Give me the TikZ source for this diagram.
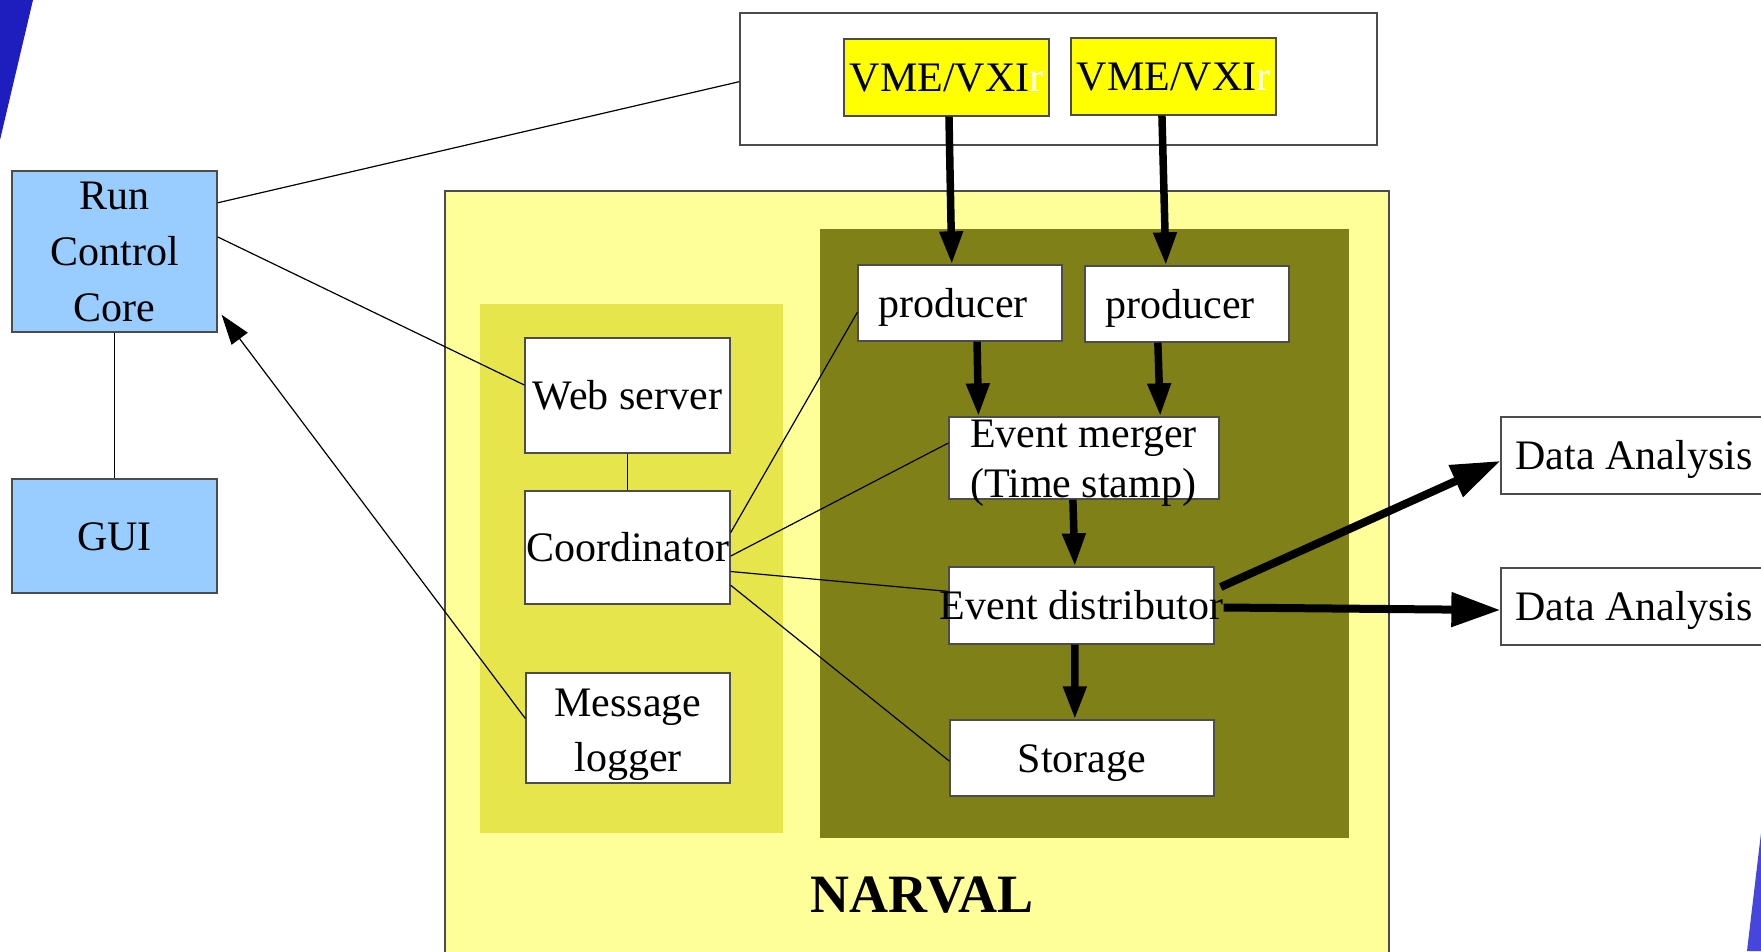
\documentclass[tikz,border=0pt]{standalone}
\usepackage{fontspec}
\setmainfont{Liberation Serif}
\usetikzlibrary{arrows.meta,calc}
\definecolor{narvalbg}{RGB}{255,255,153}
\definecolor{panelA}{RGB}{230,230,76}
\definecolor{olivebg}{RGB}{128,128,25}
\definecolor{rcblue}{RGB}{153,204,255}
\definecolor{vmeyellow}{RGB}{255,255,0}
\definecolor{decoblueA}{RGB}{30,30,190}
\definecolor{decoblueB}{RGB}{70,70,220}
\begin{document}
\begin{tikzpicture}[x=1pt,y=-1pt,
  font=\fontsize{42}{56}\selectfont,
  box/.style={draw=black!70, line width=1.3pt, fill=white, inner sep=0pt, align=center},
  onebox/.style={box, text height=37.4pt, text depth=9.1pt},
  bluebox/.style={box, fill=rcblue},
  vmebox/.style={onebox, fill=vmeyellow},
  thinline/.style={line width=1.2pt, black},
  fat/.style={line width=7.5pt, -{Triangle[length=33pt,width=22pt]}},
  fatter/.style={line width=8pt, -{Triangle[length=49pt,width=33pt]}},
  txt/.style={inner sep=0pt}
]
\useasboundingbox (0,0) rectangle (1761,951);
\clip (0,0) rectangle (1761,951);
% decorations
\fill[decoblueA] (0,0) -- (33,0) -- (0,140) -- cycle;
\fill[decoblueB] (1761,833) -- (1761,951) -- (1747,951) -- cycle;
% panels
\draw[fill=narvalbg, draw=black!70, line width=1.3pt] (445,191) rectangle (1389,960);
\fill[panelA] (480,304) rectangle (783,833);
\fill[olivebg] (820,229) rectangle (1349,838);
% top box
\node[box, minimum width=637pt, minimum height=132pt] (top) at (1058.5,79) {};
\node[vmebox, minimum width=205pt, minimum height=77pt] (vme1) at (946.5,77.5) {VME/VXI\textcolor{white}{r}};
\node[vmebox, minimum width=205pt, minimum height=77pt] (vme2) at (1173.5,76.5) {VME/VXI\textcolor{white}{r}};
% left
\node[bluebox, minimum width=205pt, minimum height=161pt] (rcc) at (114.5,251.5) {Run\\Control\\Core};
\node[onebox, fill=rcblue, minimum width=205pt, minimum height=114pt] (gui) at (114.5,536) {GUI};
% light panel boxes
\node[onebox, minimum width=205pt, minimum height=115pt] (web) at (627.5,395.5) {\makebox[0pt]{Web server}};
\node[onebox, minimum width=205pt, minimum height=113pt] (coord) at (627.5,547.5) {\makebox[0pt]{Coordinator}};
\node[box, minimum width=204pt, minimum height=106pt, font=\fontsize{42}{55}\selectfont] (msg) at (628,728) {\raisebox{-4.5pt}[\height][\depth]{\begin{tabular}{@{}c@{}}Message\\logger\end{tabular}}};
% olive boxes
\node[onebox, minimum width=204pt, minimum height=76pt] (prod1) at (960,303) {producer\hspace{14pt}};
\node[onebox, minimum width=204pt, minimum height=76pt] (prod2) at (1187,304) {producer\hspace{14pt}};
\node[box, minimum width=270pt, minimum height=82pt] (merger) at (1084,458) {};
\node[txt, anchor=base west] (mergerA) at (970,447) {Event merger};
\node[txt, anchor=base west] (mergerB) at (970,497) {(Time stamp)};
\node[onebox, minimum width=265pt, minimum height=77pt] (dist) at (1081.5,605.5) {\makebox[0pt]{Event distributor}};
\node[onebox, minimum width=264pt, minimum height=76pt] (stor) at (1082,758) {Storage};
% data analysis
\node[onebox, minimum width=266pt, minimum height=77pt] (da1) at (1634,455.5) {Data Analysis};
\node[onebox, minimum width=266pt, minimum height=77pt] (da2) at (1634,606.5) {Data Analysis};
% title
\node[txt, font=\fontsize{54}{60}\selectfont\bfseries] (title) at (922,895) {NARVAL};
% thin connectors
\draw[thinline] ($(rcc.north east)!0.2!(rcc.south east)$) -- ($(top.north west)!0.52!(top.south west)$);
\draw[thinline] ($(rcc.north east)!0.41!(rcc.south east)$) -- ($(web.north west)!0.41!(web.south west)$);
\draw[thinline, -{Triangle[length=30pt,width=20pt]}] ($(msg.north west)!0.415!(msg.south west)$) -- ($(rcc.north east)!0.89!(rcc.south east)+(4,0)$);
\draw[thinline] (web.south) -- (coord.north);
\draw[thinline] (rcc.south) -- (gui.north);
\draw[thinline] ($(coord.north east)!0.37!(coord.south east)$) -- ($(prod1.north west)!0.62!(prod1.south west)$);
\draw[thinline] ($(coord.north east)!0.575!(coord.south east)$) -- ($(merger.north west)!0.32!(merger.south west)$);
\draw[thinline] ($(coord.north east)!0.71!(coord.south east)$) -- ($(dist.north west)!0.32!(dist.south west)$);
\draw[thinline] ($(coord.north east)!0.83!(coord.south east)$) -- ($(stor.north west)!0.54!(stor.south west)$);
% thick arrows
\draw[fat] ($(vme1.south west)!0.512!(vme1.south east)$) -- ($(prod1.north west)!0.46!(prod1.north east)$);
\draw[fat] ($(vme2.south west)!0.444!(vme2.south east)$) -- ($(prod2.north west)!0.397!(prod2.north east)$);
\draw[fat] ($(prod1.south west)!0.583!(prod1.south east)$) -- ($(merger.north west)!0.111!(merger.north east)$);
\draw[fat] ($(prod2.south west)!0.358!(prod2.south east)$) -- ($(merger.north west)!0.781!(merger.north east)$);
\draw[fat] ($(merger.south west)!0.459!(merger.south east)$) -- ($(dist.north west)!0.475!(dist.north east)$);
\draw[fat] ($(dist.south west)!0.475!(dist.south east)$) -- ($(stor.north west)!0.473!(stor.north east)$);
\draw[fatter] ($(dist.east)+(6,-18.5)$) -- ($(da1.north west)!0.57!(da1.south west)$);
\draw[fatter] ($(dist.east)+(9,2)$) -- ($(da2.north west)!0.545!(da2.south west)$);
\end{tikzpicture}
\end{document}
